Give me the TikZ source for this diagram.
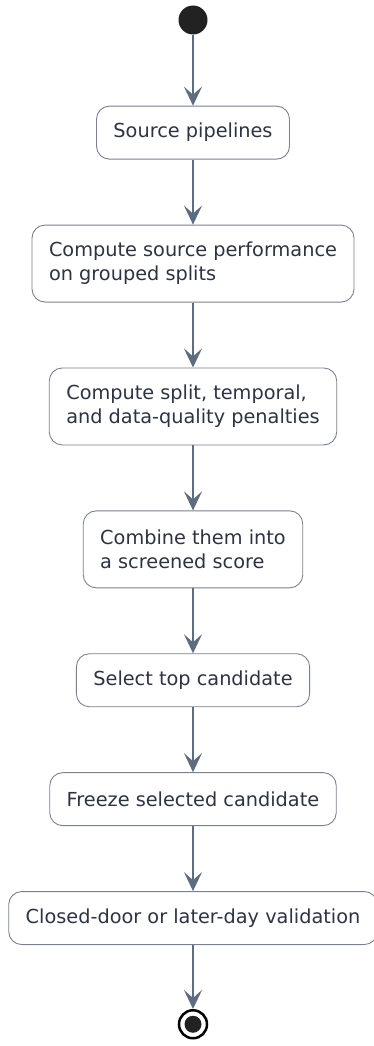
\documentclass[tikz,border=0pt]{standalone}
\usepackage{fontspec}
\setmainfont{DejaVu Sans}
\usetikzlibrary{positioning,arrows.meta}
\definecolor{flowgrey}{RGB}{94,108,128}
\definecolor{boxedge}{RGB}{120,130,146}
\definecolor{inkslate}{RGB}{44,52,66}
\definecolor{dotblack}{RGB}{34,34,34}

\begin{document}
\begin{tikzpicture}[x=1pt,y=-1pt,
  act/.style={rectangle,rounded corners=13pt,draw=boxedge,line width=0.9pt,fill=white,
    text=inkslate,font=\fontsize{19.3}{24}\selectfont,align=left,
    inner xsep=17pt,inner ysep=17pt,minimum height=53pt},
  tall/.style={act,minimum height=77pt},
  flow/.style={-{Stealth[length=19pt,width=18pt,inset=8pt]},flowgrey,line width=2.2pt},
  node distance=65pt
]
\useasboundingbox (0,0) rectangle (374,1046);

% start dot
\node[circle,fill=dotblack,minimum size=29pt,inner sep=0pt] (start) at (193,20) {};

% the activities, top to bottom
\node[act,below=71pt of start] (src) {Source pipelines};
\node[tall,below=of src] (perf) {Compute source performance\\on grouped splits};
\node[tall,below=of perf] (pen) {Compute split, temporal,\\and data-quality penalties};
\node[tall,below=of pen] (comb) {Combine them into\\a screened score};
\node[act,below=of comb] (sel) {Select top candidate};
\node[act,below=of sel] (frz) {Freeze selected candidate};
\node[act,below=of frz] (val) {Closed-door or later-day validation};

% end dot
\node[circle,draw=black,line width=2.5pt,minimum size=28pt,inner sep=0pt,below=64pt of val] (stop) {};
\node[circle,fill=dotblack,minimum size=17pt,inner sep=0pt] (stopdot) at (stop) {};

% flow
\draw[flow] (start) -- (src);
\draw[flow] (src) -- (perf);
\draw[flow] (perf) -- (pen);
\draw[flow] (pen) -- (comb);
\draw[flow] (comb) -- (sel);
\draw[flow] (sel) -- (frz);
\draw[flow] (frz) -- (val);
\draw[flow] (val) -- (stop);

\end{tikzpicture}
\end{document}
